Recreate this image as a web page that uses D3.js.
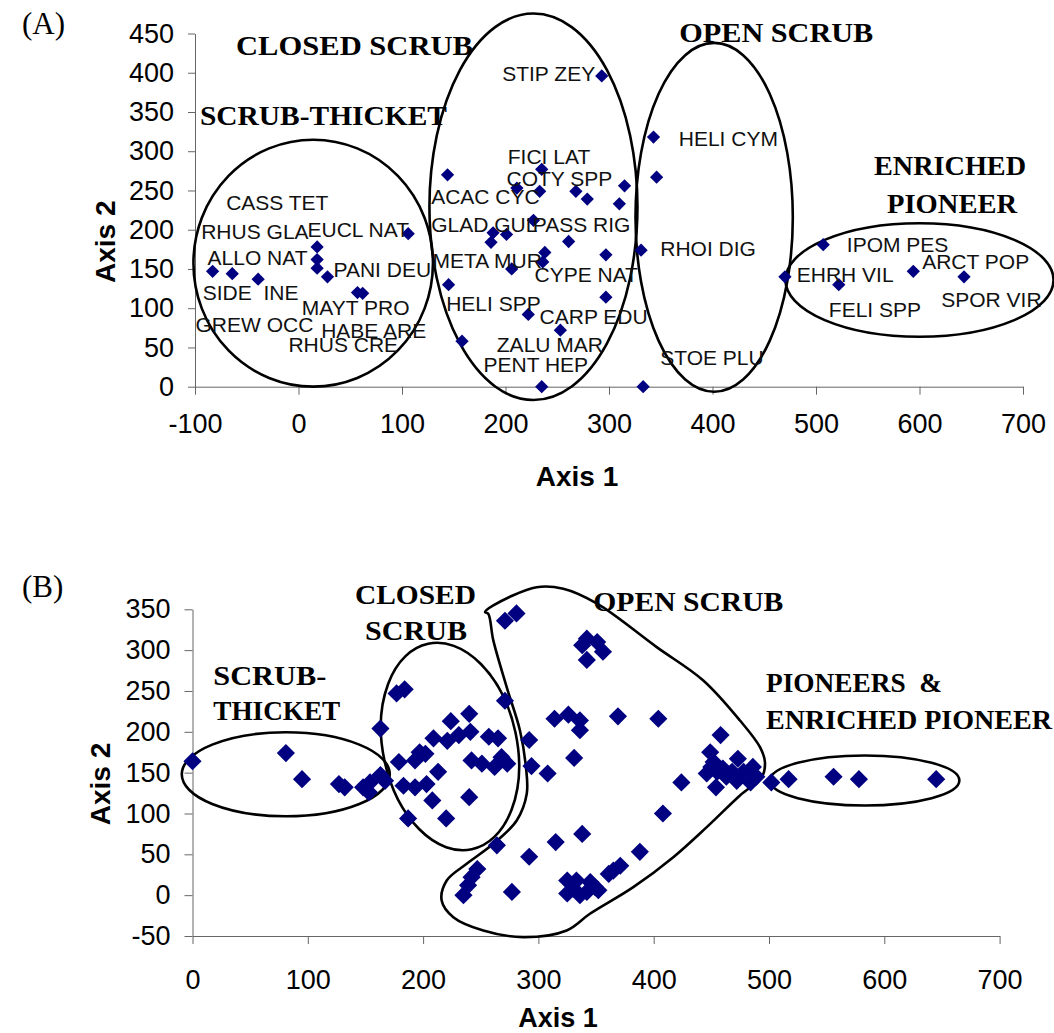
<!DOCTYPE html>
<html><head><meta charset="utf-8">
<script src="https://cdn.jsdelivr.net/npm/d3@7"></script>
<style>
body{margin:0;background:#fff;}
svg{display:block;}
</style></head>
<body>
<svg id="chart" width="1054" height="1033"></svg>
<script>
// ---------------- Panel A data ----------------
const aXTicks = [-100,0,100,200,300,400,500,600,700];
const aYTicks = [0,50,100,150,200,250,300,350,400,450];
const aPoints = [
  [-83,147],[-64,144],[-39,137],[18,178],[18,162],[18,151],[28,140],[57,120],[62,119],[106,195],
  [144,270],[145,130],[158,58],[186,184],[188,196],[201,194],[206,150],[211,253],[222,92],[227,212],
  [233,249],[235,277],[235,0],[236,159],[238,171],[253,72],[261,185],[268,249],[279,239],[293,396],
  [297,168],[297,114],[310,233],[315,256],[331,174],[333,0],[343,318],[346,267],[470,140],[507,181],
  [522,130],[594,147],[643,140]
];
const aLabels = [
  ["CASS TET",-69.9,225.4],["RHUS GLA",-94,188],["EUCL NAT",8.7,191.3],["ALLO NAT",-87.9,155.2],
  ["PANI DEU",33.8,140.3],["SIDE  INE",-92.5,110.6],["MAYT PRO",3.2,91.5],["GREW OCC",-99.5,70.2],
  ["HABE ARE",21.9,61.7],["RHUS CRE",-9.7,44.6],["STIP ZEY",196.8,389],["FICI LAT",202.2,284],
  ["COTY SPP",201,256],["ACAC CYC",128.2,233],["GLAD GUL",128.2,197.7],["PASS RIG",226.4,197.7],
  ["META MUR",129.5,151],["CYPE NAT",228,134],["HELI SPP",142.7,97],["CARP EDU",232.9,80],
  ["ZALU MAR",191.6,44.6],["PENT HEP",178.7,19.1],["HELI CYM",367.4,307],["RHOI DIG",349.5,166.7],
  ["STOE PLU",349.5,27.7],["IPOM PES",529.8,171],["ARCT POP",602.6,149.7],["EHRH VIL",481.4,134],
  ["SPOR VIR",621,102],["FELI SPP",512.4,89.3]
];
// groups: [cx, cy, rx, ry] in data units
const aGroups = [[14.2,157.4,115.7,157.3],[227,229.2,100.5,246.2],[401.6,215.8,76,222.2],[600,136,129.5,72.3]];
// group titles: [text, x, y, width(px), anchor]
const aTitles = [
  ["CLOSED SCRUB",-60.4,422.6,237,"start"],["SCRUB-THICKET",-95.2,333.4,247,"start"],
  ["OPEN SCRUB",367.9,439.5,194,"start"],["ENRICHED",629.5,269.7,152,"middle"],["PIONEER",631.5,221.7,130,"middle"]
];

// ---------------- Panel B data ----------------
const bXTicks = [0,100,200,300,400,500,600,700];
const bYTicks = [-50,0,50,100,150,200,250,300,350];
const bPoints = [
  [0,164],[81,174],[95,142],[127,136],[132,132],[148,132],[154,138],[153,126],[163,147],[167,140],[163,204],
  [177,247],[184,252],[179,163],[183,134],[193,132],[203,136],[193,165],[197,175],[202,173],[213,151],
  [208,116],[187,94],[220,94],[240,120],[209,192],[224,213],[240,222],[221,189],[231,196],[241,200],
  [257,194],[265,192],[242,165],[251,161],[262,157],[268,169],[273,161],[271,238],
  [271,336],[281,345],[342,314],[351,310],[338,306],[356,298],[342,288],[314,216],[326,221],[336,214],
  [336,202],[369,219],[404,216],[292,190],[294,158],[308,149],[331,168],[424,138],[408,100],[458,196],
  [449,175],[452,163],[455,151],[454,132],[463,145],[473,167],[472,140],[486,157],[484,138],[460,155],
  [468,151],[478,151],[446,149],[450,157],[489,145],[502,138],
  [338,75],[315,65],[292,47],[388,53],[361,26],[371,36],[365,30],[325,18],[325,2],[333,18],[336,0],
  [345,16],[349,10],[342,4],[330,8],[352,6],[247,32],[242,22],[239,12],[235,0],[277,4],[264,61],
  [517,142],[556,145],[578,142],[645,142]
];
// ellipses: [cx, cy, rx, ry, rotationDeg]
const bEllipses = [[80.9,148,90.2,51.4,0],[223.3,182,58.1,128.6,-12],[583,140.4,82.1,30.6,0]];
const bOpenScrub = [
  [253.7,346.5],[260.9,354.7],[298.5,377.1],[321.6,375.2],[350.6,357.2],[402.6,303.7],[443,262.9],
  [474.8,213.9],[492.2,181.2],[496.5,162.5],[493.7,144.5],[474.8,122.1],[446,83.3],[417,46.5],
  [382.3,9.8],[344.7,-22.8],[324.5,-43.2],[286.9,-51.4],[252.2,-43.2],[226.2,-26.9],[216.1,-6.5],
  [220.5,18],[237.8,38.4],[260.9,62.9],[281.2,91.5],[289.9,124.2],[289.2,156.7],[284,201.7],
  [272.5,254.7],[260.9,311.9],[256.5,344.6]
];
const bTitles = [
  ["SCRUB-",18,256.8,113,"start"],["THICKET",18,213.9,127,"start"],
  ["CLOSED",140.9,356.8,121,"start"],["SCRUB",149.6,311.9,102,"start"],
  ["OPEN SCRUB",347.6,347.7,190,"start"],["PIONEERS  &",497.4,248.6,176,"start"],
  ["ENRICHED PIONEER",497.4,203.7,286,"start"]
];

const svg = d3.select("#chart");
const SANS = "'Liberation Sans', Arial, sans-serif";
const SERIF = "'Liberation Serif', 'Times New Roman', serif";
const NAVY = "#000080";

function styleAxis(g){
  g.selectAll("path.domain").attr("stroke","#666").attr("stroke-width",1);
  g.selectAll(".tick line").attr("stroke","#666");
  g.selectAll("text").attr("font-family",SANS).attr("font-size",27).attr("fill","#000");
}

function diamond(size){ return d3.symbol().type(d3.symbolSquare).size(size); }

// ================= Panel A =================
const xA = d3.scaleLinear().domain([-100,700]).range([195,1023]);
const yA = d3.scaleLinear().domain([0,450]).range([386.7,33.5]);

const gA = svg.append("g");
gA.append("g").attr("transform",`translate(0,${yA(0)})`)
  .call(d3.axisBottom(xA).tickValues(aXTicks).tickSize(8).tickSizeOuter(0).tickPadding(19).tickFormat(d=>String(d)))
  .call(styleAxis);
gA.append("g").attr("transform",`translate(${xA(-100)},0)`)
  .call(d3.axisLeft(yA).tickValues(aYTicks).tickSize(7).tickSizeOuter(0).tickPadding(14).tickFormat(d=>String(d)))
  .call(styleAxis);

gA.selectAll("ellipse.grp").data(aGroups).join("ellipse")
  .attr("cx",d=>xA(d[0])).attr("cy",d=>yA(d[1]))
  .attr("rx",d=>xA(d[2])-xA(0)).attr("ry",d=>yA(0)-yA(d[3]))
  .attr("fill","none").attr("stroke","#000").attr("stroke-width",2.6);

gA.selectAll("path.pt").data(aPoints).join("path")
  .attr("d",diamond(88))
  .attr("transform",d=>`translate(${xA(d[0])},${yA(d[1])}) rotate(45)`)
  .attr("fill",NAVY);

gA.selectAll("text.lbl").data(aLabels).join("text")
  .attr("x",d=>xA(d[1])).attr("y",d=>yA(d[2]))
  .attr("font-family",SANS).attr("font-size",21).attr("fill","#111")
  .style("white-space","pre")
  .text(d=>d[0]);

gA.selectAll("text.ttl").data(aTitles).join("text")
  .attr("x",d=>xA(d[1])).attr("y",d=>yA(d[2]))
  .attr("text-anchor",d=>d[4])
  .attr("font-family",SERIF).attr("font-weight","bold").attr("font-size",27)
  .attr("textLength",d=>d[3]).attr("lengthAdjust","spacingAndGlyphs")
  .text(d=>d[0]);

gA.append("text").attr("x",22).attr("y",34).attr("font-family",SERIF).attr("font-size",31).text("(A)");
gA.append("text").attr("transform","translate(115,241.7) rotate(-90)").attr("text-anchor","middle")
  .attr("font-family",SANS).attr("font-weight","bold").attr("font-size",28).text("Axis 2");
gA.append("text").attr("x",577).attr("y",486).attr("text-anchor","middle")
  .attr("font-family",SANS).attr("font-weight","bold").attr("font-size",28).text("Axis 1");

// ================= Panel B =================
const xB = d3.scaleLinear().domain([0,700]).range([192.5,999.6]);
const yB = d3.scaleLinear().domain([-50,350]).range([936,609.3]);

const gB = svg.append("g");
gB.append("g").attr("transform",`translate(0,${yB(-50)})`)
  .call(d3.axisBottom(xB).tickValues(bXTicks).tickSize(8).tickSizeOuter(0).tickPadding(26).tickFormat(d=>String(d)))
  .call(styleAxis);
gB.append("g").attr("transform",`translate(${xB(0)},0)`)
  .call(d3.axisLeft(yB).tickValues(bYTicks).tickSize(8).tickSizeOuter(0).tickPadding(14).tickFormat(d=>String(d)))
  .call(styleAxis);

gB.selectAll("ellipse.grp").data(bEllipses).join("ellipse")
  .attr("transform",d=>`translate(${xB(d[0])},${yB(d[1])}) rotate(${d[4]})`)
  .attr("rx",d=>xB(d[2])-xB(0)).attr("ry",d=>yB(0)-yB(d[3]))
  .attr("fill","none").attr("stroke","#000").attr("stroke-width",2.6);

gB.append("path").datum(bOpenScrub)
  .attr("d",d3.line().x(d=>xB(d[0])).y(d=>yB(d[1])).curve(d3.curveCatmullRomClosed.alpha(0.5)))
  .attr("fill","none").attr("stroke","#000").attr("stroke-width",2.6);

gB.selectAll("path.pt").data(bPoints).join("path")
  .attr("d",diamond(165))
  .attr("transform",d=>`translate(${xB(d[0])},${yB(d[1])}) rotate(45)`)
  .attr("fill",NAVY);

gB.selectAll("text.ttl").data(bTitles).join("text")
  .attr("x",d=>xB(d[1])).attr("y",d=>yB(d[2]))
  .attr("text-anchor",d=>d[4])
  .attr("font-family",SERIF).attr("font-weight","bold").attr("font-size",27)
  .attr("textLength",d=>d[3]).attr("lengthAdjust","spacingAndGlyphs")
  .style("white-space","pre")
  .text(d=>d[0]);

gB.append("text").attr("x",22).attr("y",597).attr("font-family",SERIF).attr("font-size",31).text("(B)");
gB.append("text").attr("transform","translate(110,784) rotate(-90)").attr("text-anchor","middle")
  .attr("font-family",SANS).attr("font-weight","bold").attr("font-size",28).text("Axis 2");
gB.append("text").attr("x",558).attr("y",1027).attr("text-anchor","middle")
  .attr("font-family",SANS).attr("font-weight","bold").attr("font-size",27).text("Axis 1");
</script>
</body></html>
